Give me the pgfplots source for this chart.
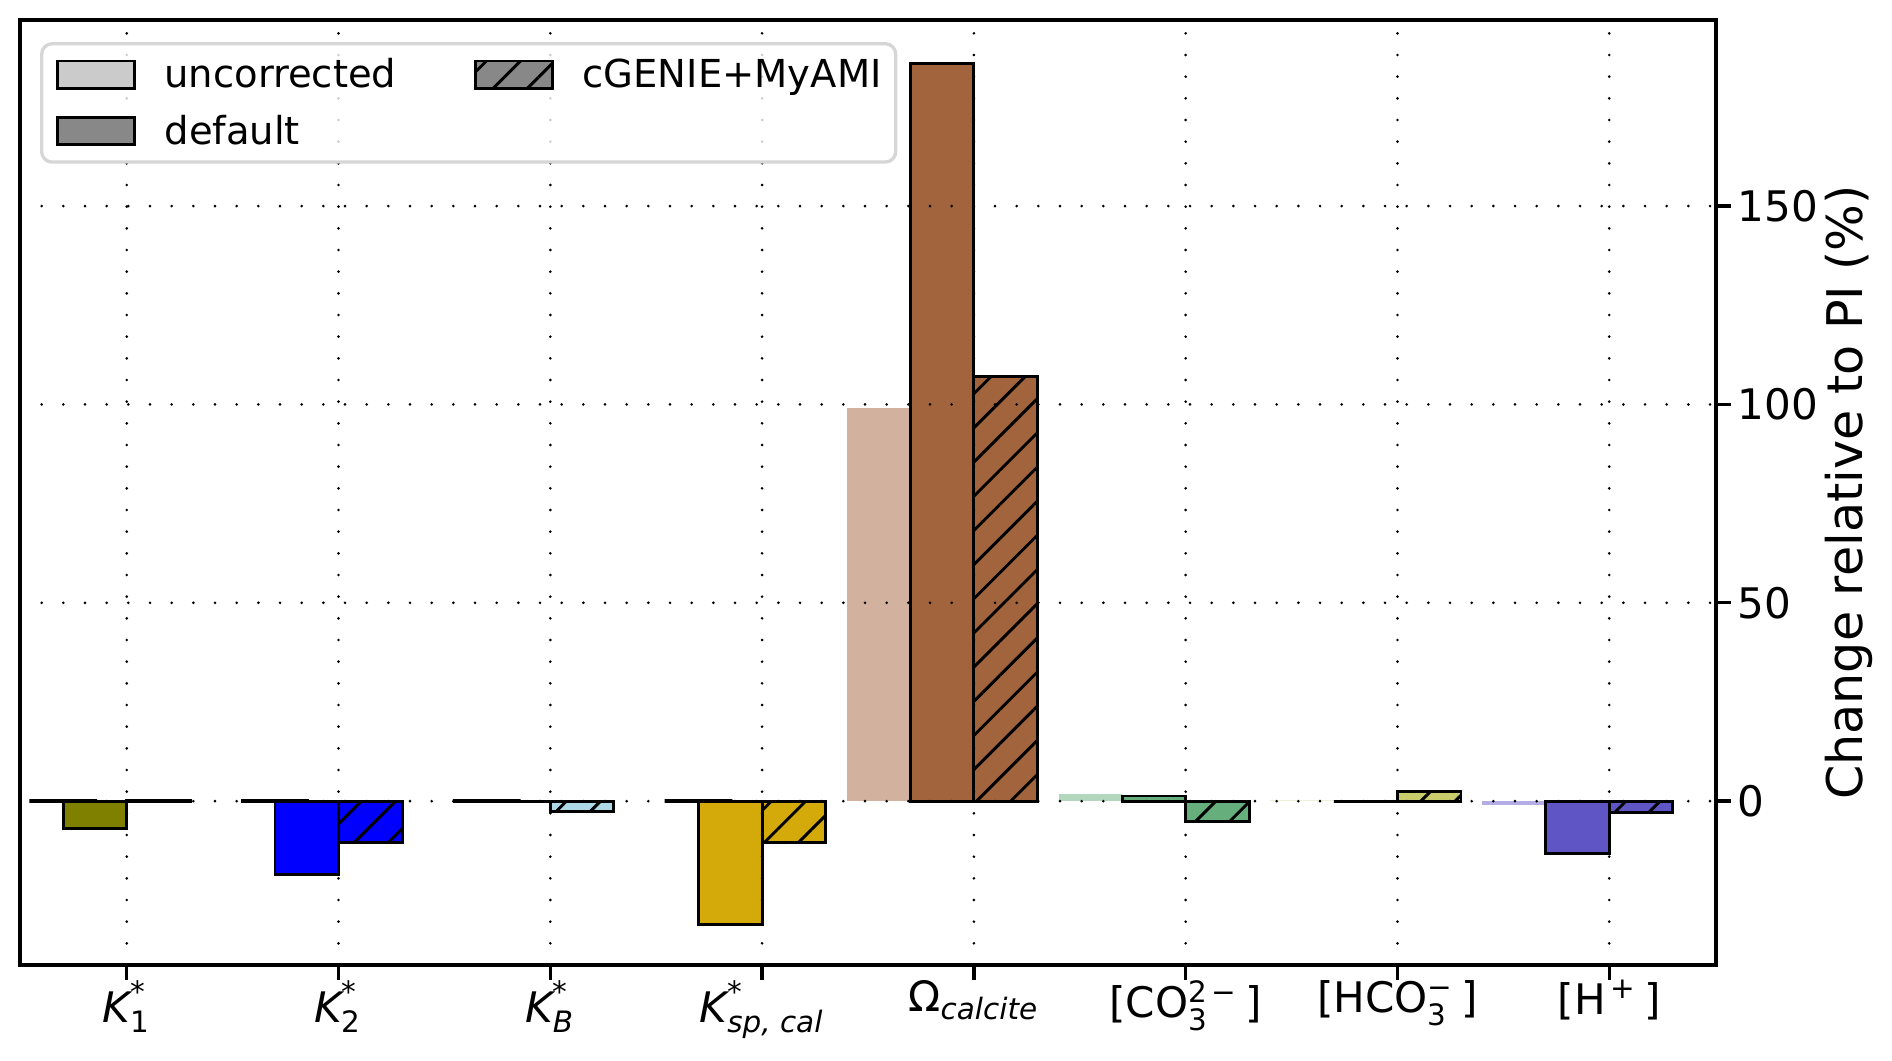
\documentclass[border=0pt]{standalone}
\usepackage{fontspec}
\setmainfont{DejaVu Sans}
\usepackage{amsmath}
\usepackage{pgfplots}
\pgfplotsset{compat=1.18}
\usetikzlibrary{patterns.meta}

\definecolor{cKone}{HTML}{808000}
\definecolor{cKtwo}{HTML}{0000FF}
\definecolor{cKB}{HTML}{ADD8E6}
\definecolor{cKsp}{HTML}{D4AA0A}
\definecolor{cOm}{HTML}{A2643D}
\definecolor{cOmL}{HTML}{D2B29E}
\definecolor{cCO}{HTML}{66AE7B}
\definecolor{cCOL}{HTML}{B3D7BD}
\definecolor{cHC}{HTML}{C8CC6A}
\definecolor{cHCL}{HTML}{EEF2D4}
\definecolor{cH}{HTML}{6055C5}
\definecolor{cHL}{HTML}{B3ADE4}
\definecolor{legedge}{HTML}{D6D6D6}
\definecolor{legunc}{HTML}{CBCBCB}
\definecolor{leggray}{HTML}{888888}

\pgfplotsset{
  unc/.style={ybar, bar width=0.3, bar shift=-0.45, draw=none, forget plot},
  def/.style={ybar, bar width=0.3, bar shift=-0.15, draw=black, line width=0.7pt, forget plot},
  cge/.style={ybar, bar width=0.3, bar shift=0.15, draw=black, line width=0.7pt, forget plot},
  cgehatch/.style={ybar, bar width=0.3, bar shift=0.15, draw=black, line width=0.7pt, forget plot,
     pattern={Lines[angle=45,distance=5.8pt,line width=0.7pt]}, pattern color=black},
  kline/.style={ybar, bar width=0.32, bar shift=-0.3, draw=black, line width=1.1pt, fill=none, forget plot},
  patchlegend/.style={legend image code/.code={%
     \draw[sharp corners, fill opacity=1, draw opacity=1, line width=0.7pt, ##1] (0pt,-3.25pt) rectangle (18.5pt,3.25pt);}},
}

\newcommand{\catbars}[6]{%
  \addplot[unc, fill=#3] coordinates {(#1,#4)};
  \addplot[def, fill=#2] coordinates {(#1,#5)};
  \addplot[cge, fill=#2] coordinates {(#1,#6)};
  \addplot[cgehatch] coordinates {(#1,#6)};
}

\begin{document}
\begin{tikzpicture}
\useasboundingbox (-4.8pt,-22.8pt) rectangle (449.28pt,231.6pt);
\begin{axis}[
  at={(0pt,0pt)}, anchor=south west,
  scale only axis, width=407.04pt, height=226.8pt,
  xmin=-0.504, xmax=7.504, ymin=-41.3, ymax=196.9,
  axis line style={line width=0.8pt, black},
  axis on top,
  xtick={0,1,2,3,4,5,6,7},
  xticklabels={
    {$\text{\itshape K}^{\text{*}}_{\text{1}}$},
    {$\text{\itshape K}^{\text{*}}_{\text{2}}$},
    {$\text{\itshape K}^{\text{*}}_{\text{\itshape B}}$},
    {$\text{\itshape K}^{\text{*}}_{\text{\itshape sp, cal}}$},
    {$\text{Ω}_{\text{\itshape calcite}}$},
    {[CO$^{\text{2\,−}}_{\text{3}}$\,]},
    {[HCO$^{\text{−}}_{\text{3}}$\,]},
    {[H$^{\text{\,+}}$\,]}
  },
  ytick={0,50,100,150},
  xtick pos=left, ytick pos=right, yticklabel pos=right,
  tick align=outside, major tick length=3.5pt,
  tick style={black, line width=0.8pt},
  grid=major,
  major grid style={black, line width=0.7pt, dash pattern=on 0pt off 5.2pt, line cap=round},
  xticklabel style={font=\fontsize{10.1}{12}\selectfont, inner sep=0pt, anchor=north},
  yticklabel style={font=\fontsize{10.1}{12}\selectfont, inner sep=0pt, anchor=west, xshift=1.5pt},
  /pgf/number format/assume math mode=true,
  ylabel={Change relative to PI (\%)},
  ylabel style={font=\fontsize{11.8}{14}\selectfont, at={(axis description cs:1,0.5)}, anchor=center, yshift=-31.9pt},
  legend columns=2,
  legend cell align=left,
  legend style={
    at={(axis description cs:0,1)}, anchor=north west,
    xshift=4.8pt, yshift=-5.3pt,
    draw=legedge, line width=0.8pt, rounded corners=2.5pt,
    fill=white, fill opacity=0.8, text opacity=1,
    font=\fontsize{9.24}{11}\selectfont,
    inner xsep=3.4pt, inner ysep=3.6pt,
    row sep=6pt,
    nodes={inner sep=0pt, text height=6.9pt, text depth=0.7pt},
    /tikz/every odd column/.append style={column sep=6.9pt},
    /tikz/every even column/.append style={column sep=18.6pt},
  },
]
\addlegendimage{patchlegend, fill=legunc, draw=none}
\addlegendentry{uncorrected}
\addlegendimage{patchlegend, fill=leggray, draw=black, postaction={pattern={Lines[angle=45,distance=5.8pt,line width=0.7pt]}, pattern color=black}}
\addlegendentry{cGENIE+MyAMI}
\addlegendimage{patchlegend, fill=leggray, draw=black}
\addlegendentry{default}

% x, colour, light colour, uncorrected, default, cGENIE+MyAMI
\catbars{0}{cKone}{white}{0}{-6.9}{0.1}
\catbars{1}{cKtwo}{white}{0}{-18.5}{-10.4}
\catbars{2}{cKB}{white}{0}{0}{-2.7}
\catbars{3}{cKsp}{white}{0}{-31.0}{-10.4}
\catbars{4}{cOm}{cOmL}{99.0}{186.0}{107.0}
\catbars{5}{cCO}{cCOL}{1.8}{1.3}{-5.2}
\catbars{6}{cHC}{cHCL}{0.4}{0}{2.4}
\catbars{7}{cH}{cHL}{-1.0}{-13.3}{-2.9}
\addplot[kline] coordinates {(0,0) (1,0) (2,0) (3,0)};
\end{axis}
\end{tikzpicture}
\end{document}
